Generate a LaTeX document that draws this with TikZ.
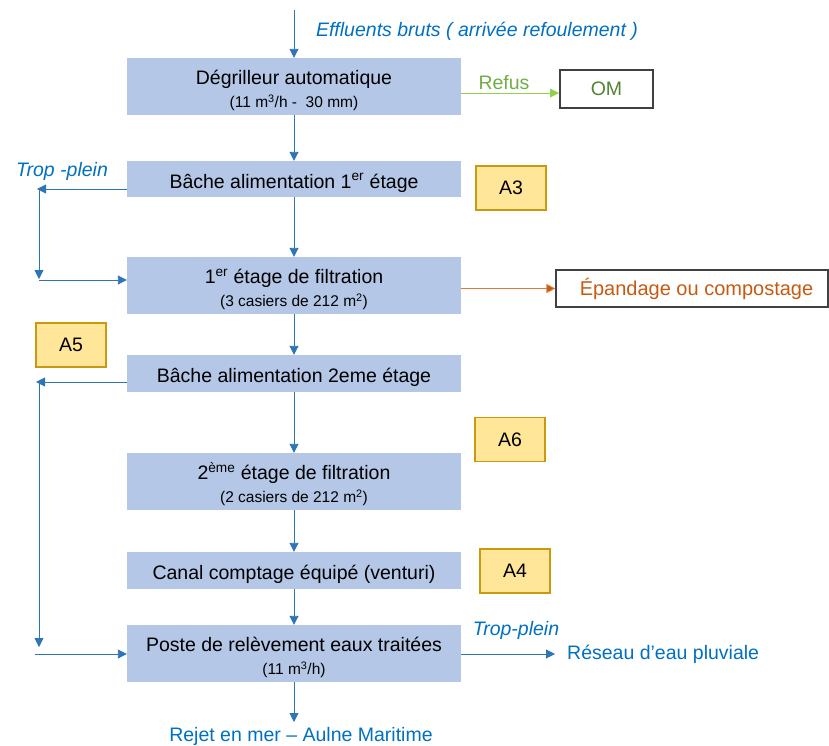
\documentclass[tikz,border=0pt]{standalone}
\usepackage{fontspec}
\setmainfont{Liberation Sans}
\usetikzlibrary{arrows.meta}

\definecolor{boxblue}{HTML}{B4C7E7}
\definecolor{flowblue}{HTML}{2E75B6}
\definecolor{textblue}{HTML}{0070C0}
\definecolor{anafill}{HTML}{FFE699}
\definecolor{anadraw}{HTML}{C99A0E}
\definecolor{refusline}{HTML}{92D050}
\definecolor{refustext}{HTML}{70AD47}
\definecolor{omgreen}{HTML}{548235}
\definecolor{bouesorange}{HTML}{C55A11}
\definecolor{bouesline}{HTML}{E07A3C}

\newcommand{\grand}{\fontsize{19.5}{23}\selectfont}
\newcommand{\petit}{\fontsize{15.5}{19}\selectfont}
\newcommand{\haut}{\rule{0pt}{23pt}}

\tikzset{
  etape/.style={fill=boxblue, draw=none, minimum width=334pt, inner sep=0pt, align=center, font=\grand},
  analyse/.style={fill=anafill, draw=anadraw, line width=1.6pt, minimum width=70pt, minimum height=44pt, inner sep=0pt, font=\grand},
  sortie/.style={draw=black!75, line width=1.2pt, inner sep=0pt, font=\grand},
  fleche/.style={draw=flowblue, line width=0.9pt, -{Triangle[length=9pt, width=9pt]}},
  legende/.style={text=textblue, inner sep=1pt, font=\grand\itshape},
}

\begin{document}
\begin{tikzpicture}[x=1pt, y=-1pt]
  \useasboundingbox (0,0) rectangle (829,745);

  % chaine de traitement
  \node[etape, minimum height=57pt] (degril) at (294,86.5) {\haut Dégrilleur automatique\\{\petit (11 m\textsuperscript{3}/h -\ \ 30 mm)}};
  \node[etape, minimum height=36pt] (bache1) at (294,179) {\haut Bâche alimentation 1\textsuperscript{er} étage};
  \node[etape, minimum height=57pt] (filt1) at (294,285.5) {\haut 1\textsuperscript{er} étage de filtration\\{\petit (3 casiers de 212 m\textsuperscript{2})}};
  \node[etape, minimum height=37pt] (bache2) at (294,373.5) {\haut Bâche alimentation 2eme étage};
  \node[etape, minimum height=57pt] (filt2) at (294,481.5) {\haut 2\textsuperscript{ème} étage de filtration\\{\petit (2 casiers de 212 m\textsuperscript{2})}};
  \node[etape, minimum height=37pt] (canal) at (294,570.5) {\haut Canal comptage équipé (venturi)};
  \node[etape, minimum height=57pt] (poste) at (294,653.5) {\haut Poste de relèvement eaux traitées\\{\petit (11 m\textsuperscript{3}/h)}};

  % points d'analyse
  \node[analyse] (a3) at (511,188) {A3};
  \node[analyse] (a5) at (71,345) {A5};
  \node[analyse] (a6) at (510,439.5) {A6};
  \node[analyse] (a4) at (515,571) {A4};

  % sorties
  \node[sortie, text=omgreen, minimum width=93pt, minimum height=38pt] (om) at (606.5,89) {OM};
  \node[sortie, text=bouesorange, minimum width=272pt, minimum height=37pt, font=\fontsize{20}{23}\selectfont] (epand) at (692,288.5) {\hspace{9pt}Épandage ou compostage};

  % textes
  \node[legende] (effluents) at (477,31) {Effluents bruts ( arrivée refoulement )};
  \node[text=refustext, inner sep=1pt, font=\grand] (refus) at (504,83) {Refus};
  \node[legende] (trop1) at (62,171) {Trop -plein};
  \node[legende] (trop2) at (516,630) {Trop-plein};
  \node[text=textblue, inner sep=1pt, font=\grand, anchor=west] (reseau) at (566,654) {Réseau d’eau pluviale};
  \node[text=textblue, inner sep=1pt, font=\grand] (rejet) at (301,736) {Rejet en mer – Aulne Maritime};

  % fleches principales
  \coordinate (entree) at (294,10);
  \coordinate (mer) at (294,722);
  \draw[fleche] (entree) -- (degril.north);
  \foreach \a/\b in {degril/bache1, bache1/filt1, filt1/bache2, bache2/filt2, filt2/canal, canal/poste}
    \draw[fleche] (\a) -- (\b);
  \draw[fleche] (poste) -- (mer);

  % refus et boues
  \coordinate (refusfin) at (559,93);
  \draw[draw=refusline, line width=0.9pt, -{Triangle[length=9pt, width=9pt]}] (degril.east |- refusfin) -- (refusfin);
  \draw[draw=bouesline, line width=0.9pt, -{Triangle[length=9pt, width=9pt, fill=bouesorange]}] (filt1.east |- epand) -- (epand.west);

  % trop-plein 1er etage
  \coordinate (tp1h) at (37,189);
  \coordinate (tp1b) at (39,279);
  \coordinate (tp1c) at (39,280);
  \draw[fleche] (bache1.west |- tp1h) -- (tp1h);
  \draw[fleche] (tp1b |- tp1h) -- (tp1b);
  \draw[fleche] (tp1c) -- (filt1.west |- tp1c);

  % trop-plein 2eme etage
  \coordinate (tp2h) at (36,382);
  \coordinate (tp2b) at (39,647);
  \coordinate (tp2c) at (35,654);
  \draw[fleche] (bache2.west |- tp2h) -- (tp2h);
  \draw[fleche] (tp2b |- tp2h) -- (tp2b);
  \draw[fleche] (tp2c) -- (poste.west |- tp2c);

  % trop-plein sortie
  \coordinate (pluvial) at (555,654);
  \draw[fleche] (poste.east |- pluvial) -- (pluvial);
\end{tikzpicture}
\end{document}
